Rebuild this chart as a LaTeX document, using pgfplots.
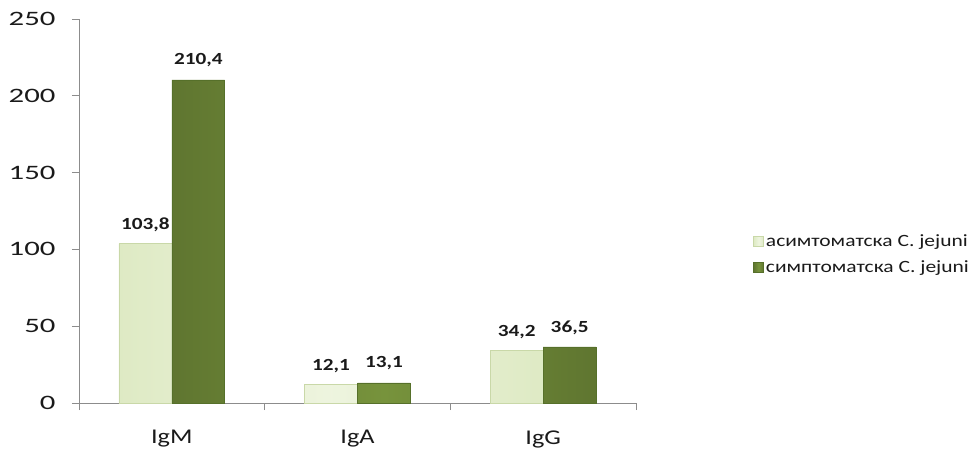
\documentclass[border=0pt]{standalone}
\usepackage{fontspec}
\setmainfont[FakeStretch=1.25]{Carlito}
\newfontfamily\tickfont[FakeStretch=1.5]{Carlito}
\usepackage{pgfplots}
\pgfplotsset{compat=1.18}
\definecolor{lightg}{HTML}{E2EDC9}
\definecolor{lightgb}{HTML}{C9D8A8}
\definecolor{darkg}{HTML}{77933C}
\definecolor{darkgb}{HTML}{56702A}
\definecolor{axisgray}{HTML}{8C8C8C}
\definecolor{txt}{HTML}{1A1A1A}
\begin{document}
\begin{tikzpicture}
\path[use as bounding box] (-79bp,-57bp) rectangle (894bp,403bp);
\begin{axis}[
  scale only axis,
  width=557bp, height=384bp,
  xmin=-0.5, xmax=2.5,
  ymin=0, ymax=250,
  axis x line*=bottom,
  axis y line*=left,
  axis line style={axisgray, line width=0.8pt},
  ytick={0,50,...,250},
  xtick={0,1,2},
  xticklabels={IgM,IgA,IgG},
  major x tick style={draw=none},
  minor xtick={-0.5,0.5,1.5,2.5},
  minor tick length=7bp,
  major tick length=7bp,
  tick align=outside,
  tick style={axisgray, line width=0.8pt},
  y tick label style={font=\tickfont\fontsize{20.5bp}{24bp}\selectfont, text=txt, xshift=-13bp},
  x tick label style={font=\fontsize{21bp}{24bp}\selectfont, text=txt, yshift=-17bp},
  /pgf/number format/assume math mode=true,
  ybar=0pt,
  bar width=0.285,
  nodes near coords,
  nodes near coords style={font=\bfseries\fontsize{17bp}{20bp}\selectfont, text=txt,
    /pgf/number format/fixed, /pgf/number format/fixed zerofill,
    /pgf/number format/precision=1, /pgf/number format/use comma},
  legend style={at={(1.205,0.387)}, anchor=west, draw=none, fill=none,
    font=\fontsize{17.2bp}{20bp}\selectfont, text=txt,
    row sep=9bp, legend cell align=left},
  legend image code/.code={\draw[#1] (0bp,-5bp) rectangle (10bp,5bp);},
]
\addplot[draw=lightgb, line width=0.6pt, left color=lightg!85!lightgb, right color=lightg!85!lightgb, middle color=lightg!60!white,
  every node near coord/.append style={yshift=8bp}] coordinates {(0,103.8) (1,12.1) (2,34.2)};
\addplot[draw=darkgb, line width=0.6pt, left color=darkg!80!black, right color=darkg!80!black, middle color=darkg,
  every node near coord/.append style={yshift=9bp}] coordinates {(0,210.4) (1,13.1) (2,36.5)};
\legend{асимтоматска C. jejuni, симптоматска C. jejuni}
\end{axis}
\end{tikzpicture}
\end{document}
